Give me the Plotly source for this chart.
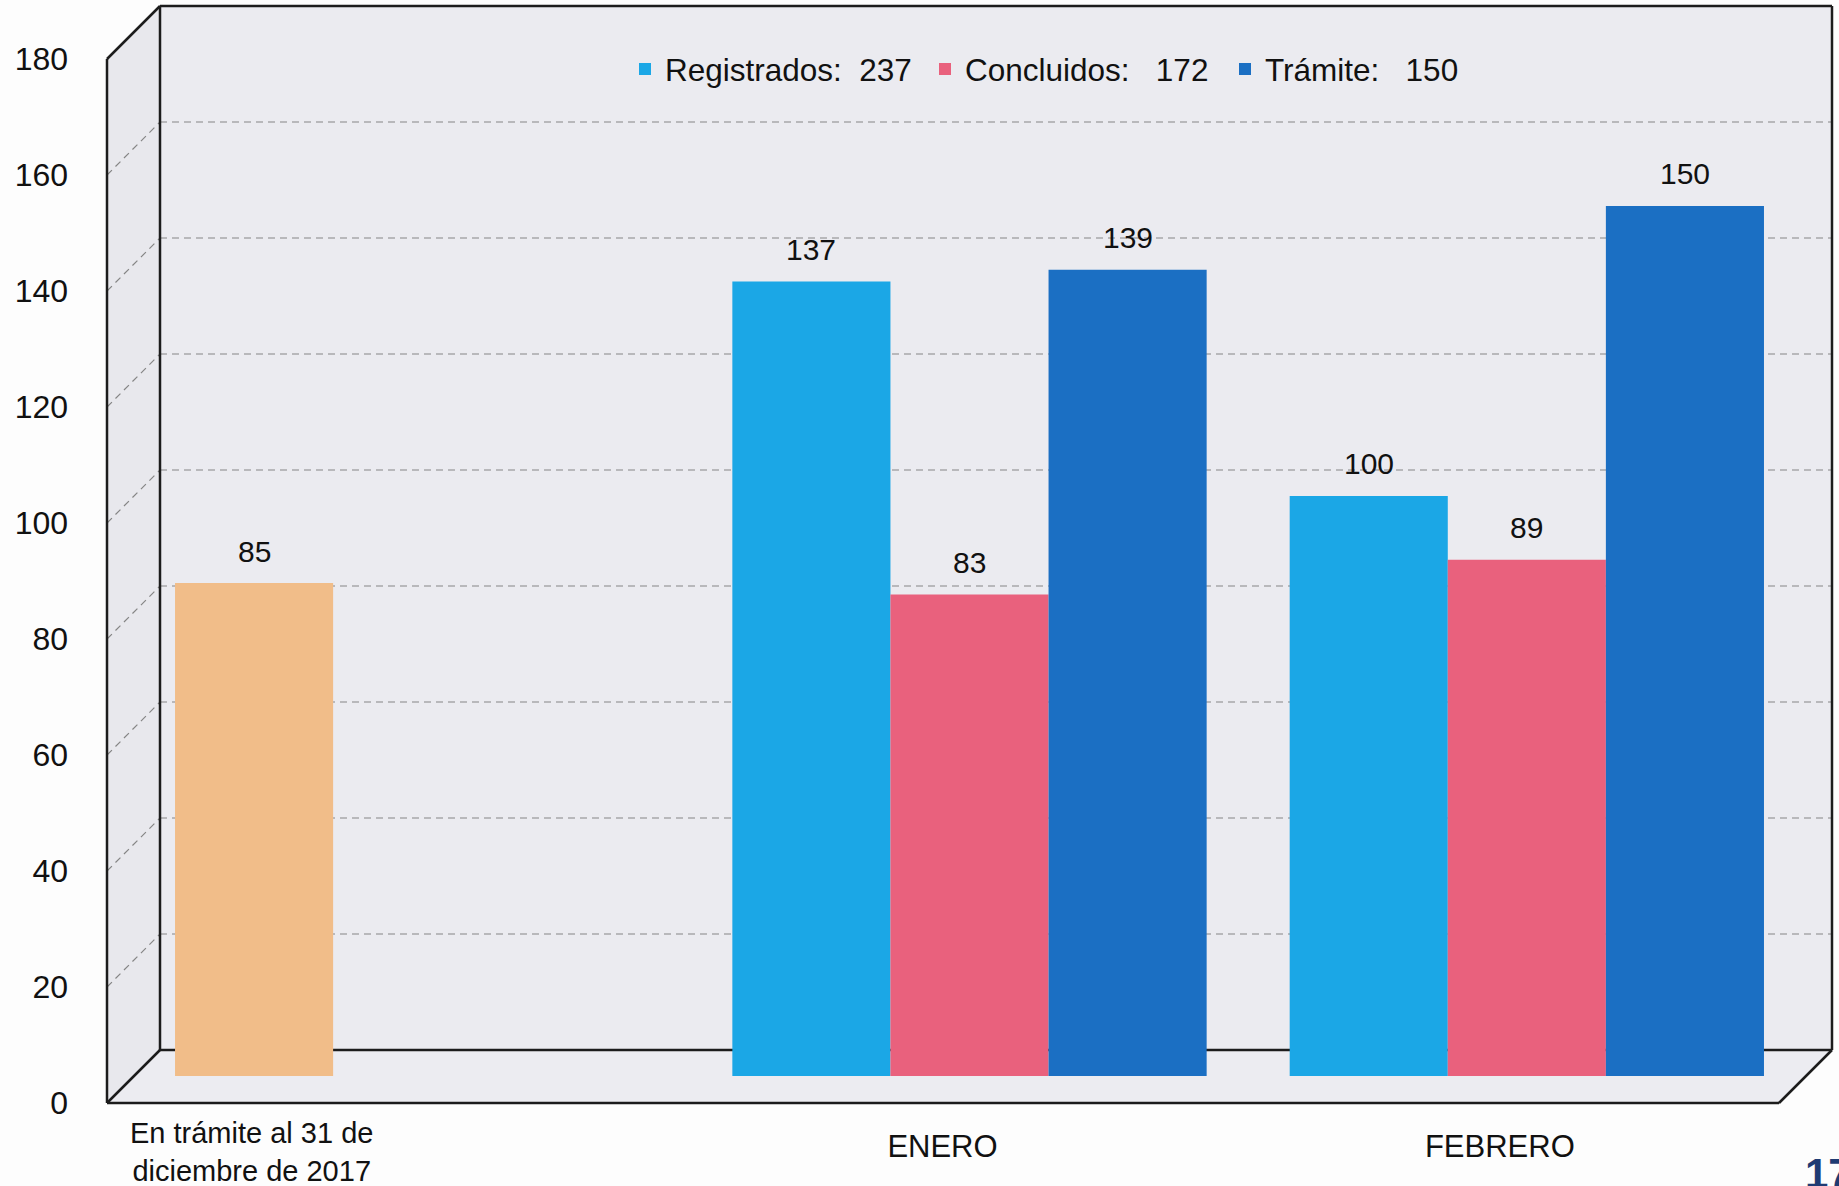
import plotly.graph_objects as go

# ---------------- data ----------------
categories = ["En trámite al 31 de diciembre de 2017", "ENERO", "FEBRERO"]
pending_start = [85]                 # En trámite al 31 de diciembre de 2017
registrados = [137, 100]             # ENERO, FEBRERO
concluidos = [83, 89]
tramite = [139, 150]
legend_names = ["Registrados:\u00a0\u00a0237", "Concluidos:\u00a0\u00a0\u00a0172", "Trámite:\u00a0\u00a0\u00a0150"]
y_ticks = [0, 20, 40, 60, 80, 100, 120, 140, 160, 180]
x_tick_labels = ["ENERO", "FEBRERO"]
first_label = "En trámite al 31 de<br>diciembre de 2017"
page_number = "17"

# ---------------- geometry (pixels) ----------------
W, H = 1839, 1186
S = 5.8                     # px per unit
YMAX = 180
FRONT0, MID0, BACK0 = 1103, 1076, 1050
DEPTH = 27                  # half depth offset (front -> bars)
XF = (107, 1779)
XM = (133.5, 1805.5)
XB = (160, 1832)
BARGAP = 0.149

def px(x):
    return x / W

def py(y):
    return 1 - y / H

C_REG = "#1ba7e6"
C_CON = "#e9617d"
C_TRA = "#1b6fc3"
C_ORA = "#f1bd89"
WALL = "#ebebf0"
FONT = "Liberation Sans, Arial, sans-serif"
TXT = "#111111"

fig = go.Figure()

fig.add_trace(go.Bar(x=categories[:1], y=pending_start, marker=dict(color=C_ORA, line=dict(width=0)),
                     offsetgroup="a", showlegend=False, name="En trámite al 31 de diciembre de 2017"))
fig.add_trace(go.Bar(x=categories[1:], y=registrados, name=legend_names[0],
                     marker=dict(color=C_REG, line=dict(width=0)), offsetgroup="a"))
fig.add_trace(go.Bar(x=categories[1:], y=concluidos, name=legend_names[1],
                     marker=dict(color=C_CON, line=dict(width=0)), offsetgroup="b"))
fig.add_trace(go.Bar(x=categories[1:], y=tramite, name=legend_names[2],
                     marker=dict(color=C_TRA, line=dict(width=0)), offsetgroup="c"))

# ---------------- value labels ----------------
cat_px = (XM[1] - XM[0]) / len(categories)
bar_px = cat_px * (1 - BARGAP) / 3
annotations = []
series = [(-1, categories[:1], pending_start), (-1, categories[1:], registrados),
          (0, categories[1:], concluidos), (1, categories[1:], tramite)]
for slot, cats, vals in series:
    for c, v in zip(cats, vals):
        annotations.append(dict(x=categories.index(c), y=v, xref="x", yref="y", text=str(v),
                                showarrow=False, xshift=slot * bar_px, yshift=32, yanchor="middle",
                                font=dict(size=30, color=TXT, family=FONT)))

annotations.append(dict(x=px(251), y=py(1115), xref="paper", yref="paper", text=first_label,
                        showarrow=False, xanchor="center", yanchor="top",
                        font=dict(size=29, color=TXT, family=FONT)))
annotations.append(dict(x=px(1803), y=py(1148), xref="paper", yref="paper", text="<b>%s</b>" % page_number,
                        showarrow=False, xanchor="left", yanchor="top",
                        font=dict(size=42, color="#1f3b73", family=FONT)))

# ---------------- 3D box ----------------
shapes = []
def poly(pts, fill):
    path = "M " + " L ".join("%f,%f" % (px(x), py(y)) for x, y in pts) + " Z"
    shapes.append(dict(type="path", path=path, xref="paper", yref="paper", fillcolor=fill,
                       line=dict(width=0), layer="below"))

def seg(p, q, color="#1c1c1c", width=2.5, dash=None):
    ln = dict(color=color, width=width)
    if dash:
        ln["dash"] = dash
    shapes.append(dict(type="line", x0=px(p[0]), y0=py(p[1]), x1=px(q[0]), y1=py(q[1]),
                       xref="paper", yref="paper", line=ln, layer="below"))

ftop = FRONT0 - YMAX * S
btop = BACK0 - YMAX * S
poly([(XB[0], btop), (XB[1], btop), (XB[1], BACK0), (XB[0], BACK0)], WALL)
poly([(XF[0], ftop), (XB[0], btop), (XB[0], BACK0), (XF[0], FRONT0)], "#e8e8ed")
poly([(XF[0], FRONT0), (XB[0], BACK0), (XB[1], BACK0), (XF[1], FRONT0)], "#ececf1")

GRID = "#858585"
for v in y_ticks[1:-1]:
    seg((XF[0], FRONT0 - v * S), (XB[0], BACK0 - v * S), color=GRID, width=1.2, dash="7px,5px")
    seg((XB[0], BACK0 - v * S), (XB[1], BACK0 - v * S), color=GRID, width=1.2, dash="7px,5px")

seg((XF[0], ftop), (XF[0], FRONT0))
seg((XF[0], ftop), (XB[0], btop))
seg((XB[0], btop), (XB[1], btop))
seg((XB[1], btop), (XB[1], BACK0))
seg((XB[0], btop), (XB[0], BACK0))
seg((XB[0], BACK0), (XB[1], BACK0))
seg((XF[0], FRONT0), (XB[0], BACK0))
seg((XF[0], FRONT0), (XF[1], FRONT0))
seg((XF[1], FRONT0), (XB[1], BACK0))

fig.update_layout(
    width=W, height=H,
    margin=dict(l=0, r=0, t=0, b=0, autoexpand=False),
    paper_bgcolor="#fdfdfd",
    plot_bgcolor="rgba(0,0,0,0)",
    barmode="group", bargap=BARGAP, bargroupgap=0,
    font=dict(family=FONT, color=TXT),
    xaxis=dict(domain=[px(XM[0]), px(XM[1])], type="category", categoryorder="array",
               categoryarray=categories, range=[-0.5, 2.5], tickmode="array",
               tickvals=categories[1:], ticktext=x_tick_labels, ticks="outside", ticklen=43,
               tickcolor="rgba(0,0,0,0)", ticklabelshift=-DEPTH,
               tickfont=dict(size=31, family=FONT, color=TXT), showgrid=False, zeroline=False,
               showline=False, automargin=False),
    yaxis=dict(domain=[py(MID0), py(MID0 - YMAX * S)], range=[0, YMAX], tickvals=y_ticks,
               ticks="outside", ticklen=58, tickcolor="rgba(0,0,0,0)", ticklabelshift=DEPTH,
               tickfont=dict(size=32, family=FONT, color=TXT), showgrid=False, zeroline=False,
               showline=False, automargin=False),
    legend=dict(orientation="h", x=px(625), y=py(42), xanchor="left", yanchor="top",
                bgcolor="rgba(0,0,0,0)", font=dict(size=31.5, family=FONT, color=TXT),
                itemwidth=30, tracegroupgap=0, entrywidth=255, entrywidthmode="pixels"),
    annotations=annotations,
    shapes=shapes,
)

fig.write_html("out.html", config={"displayModeBar": False},
               post_script="document.body.style.margin='0px';")
